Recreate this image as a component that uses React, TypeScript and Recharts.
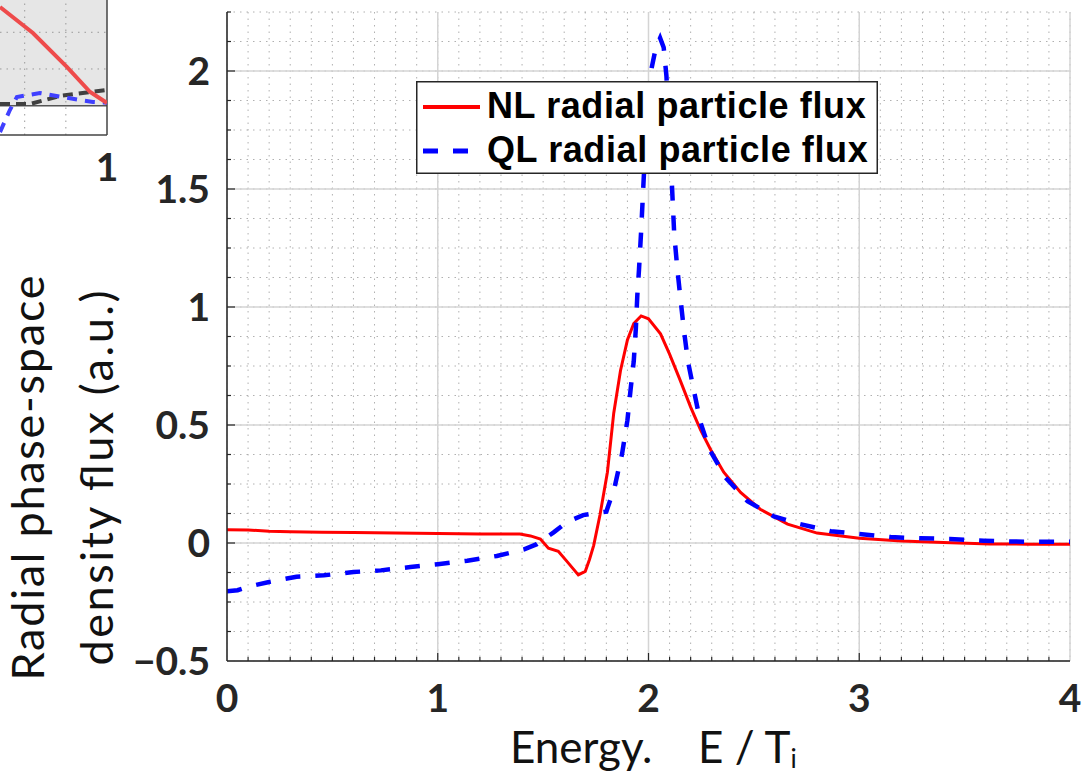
import React from 'react';
import {
  LineChart,
  Line,
  XAxis,
  YAxis,
  CartesianGrid,
  Legend,
  ReferenceArea,
  ReferenceLine,
} from 'recharts';

// ---------------- Main chart data ----------------
const nlX = [0, 0.1, 0.2, 0.3, 0.45, 0.6, 0.8, 1.0, 1.2, 1.39, 1.44, 1.487, 1.525, 1.572, 1.615, 1.667, 1.7, 1.72, 1.74, 1.77, 1.805, 1.835, 1.867, 1.9, 1.93, 1.965, 2.0, 2.057, 2.1, 2.15, 2.2, 2.247, 2.295, 2.357, 2.437, 2.53, 2.66, 2.8, 3.0, 3.2, 3.4, 3.62, 3.8, 4.0];
const nlY = [0.056, 0.055, 0.05, 0.048, 0.046, 0.045, 0.042, 0.04, 0.038, 0.038, 0.03, 0.017, -0.022, -0.035, -0.08, -0.135, -0.12, -0.07, -0.01, 0.12, 0.3, 0.55, 0.73, 0.86, 0.93, 0.962, 0.95, 0.886, 0.8, 0.69, 0.576, 0.479, 0.395, 0.3, 0.214, 0.143, 0.08, 0.042, 0.02, 0.008, 0.002, -0.004, -0.005, -0.005];

const qlX = [0, 0.05, 0.1, 0.2, 0.33, 0.46, 0.6, 0.73, 0.87, 1.0, 1.14, 1.28, 1.41, 1.47, 1.55, 1.615, 1.69, 1.75, 1.8, 1.84, 1.875, 1.9, 1.915, 1.93, 1.94, 1.947, 1.955, 1.965, 1.977, 1.995, 2.012, 2.035, 2.055, 2.072, 2.085, 2.1, 2.11, 2.122, 2.137, 2.15, 2.167, 2.187, 2.215, 2.247, 2.29, 2.366, 2.47, 2.595, 2.72, 2.865, 3.0, 3.15, 3.29, 3.43, 3.59, 3.73, 3.88, 4.0];
const qlY = [-0.205, -0.2, -0.185, -0.165, -0.143, -0.137, -0.123, -0.116, -0.102, -0.09, -0.075, -0.055, -0.027, -0.005, 0.045, 0.09, 0.118, 0.127, 0.133, 0.24, 0.38, 0.52, 0.65, 0.77, 0.91, 1.05, 1.16, 1.32, 1.54, 1.85, 2.0, 2.1, 2.14, 2.1, 1.98, 1.72, 1.54, 1.31, 1.16, 1.05, 0.91, 0.77, 0.647, 0.51, 0.395, 0.277, 0.177, 0.113, 0.08, 0.05, 0.038, 0.025, 0.02, 0.017, 0.01, 0.006, 0.005, 0.005];

const xMajorTicks = [0, 1, 2, 3, 4];
const xMinorTicks = [0, 0.1, 0.2, 0.3, 0.4, 0.5, 0.6, 0.7, 0.8, 0.9, 1, 1.1, 1.2, 1.3, 1.4, 1.5, 1.6, 1.7, 1.8, 1.9, 2, 2.1, 2.2, 2.3, 2.4, 2.5, 2.6, 2.7, 2.8, 2.9, 3, 3.1, 3.2, 3.3, 3.4, 3.5, 3.6, 3.7, 3.8, 3.9, 4];
const yMajorTicks = [-0.5, 0, 0.5, 1, 1.5, 2];
const yMinorTicks = [-0.5, -0.375, -0.25, -0.125, 0, 0.125, 0.25, 0.375, 0.5, 0.625, 0.75, 0.875, 1, 1.125, 1.25, 1.375, 1.5, 1.625, 1.75, 1.875, 2, 2.125, 2.25];

const seriesNames = ['NL radial particle flux', 'QL radial particle flux'];
const xLabelParts = ['Energy.', 'E / T', 'i'];
const yLabelLines = ['Radial phase-space', 'density flux (a.u.)'];

// ---------------- Cropped neighbour chart (top-left) data ----------------
const miniRedX = [0.74, 0.82, 0.903, 0.959, 1.0];
const miniRedY = [0.672, 0.495, 0.263, 0.093, 0.018];
const miniGrayX = [0.74, 0.813, 0.886, 0.959, 1.0];
const miniGrayY = [0.011, 0.011, 0.066, 0.093, 0.107];
const miniBlueX = [0.74, 0.764, 0.781, 0.837, 0.934, 0.966, 1.0];
const miniBlueY = [-0.18, -0.03, 0.059, 0.086, 0.038, 0.025, 0.02];
const miniXTicks = [1];

const zip = (xs: number[], ys: number[]) => xs.map((x, i) => ({ x, y: ys[i] }));
const nlData = zip(nlX, nlY);
const qlData = zip(qlX, qlY);
const miniRed = zip(miniRedX, miniRedY);
const miniGray = zip(miniGrayX, miniGrayY);
const miniBlue = zip(miniBlueX, miniBlueY);

const TICK_FONT = 'Lato, "Open Sans", "DejaVu Sans", sans-serif';
const LABEL_FONT = 'Lato, "Open Sans", sans-serif';
const AXIS_COLOR = '#262626';

const isIn = (arr: number[], v: number) => arr.some((m) => Math.abs(m - v) < 1e-9);
const fmt = (v: number) => (v < 0 ? '\u2212' + String(Math.abs(v)) : String(v));

function YTick(props: any) {
  const { x, y, payload } = props;
  const v = payload.value;
  const major = isIn(yMajorTicks, v);
  const len = major ? 8 : 4;
  return (
    <g>
      {v > -0.5 + 1e-9 && (
        <line x1={x} x2={x + len} y1={y} y2={y} stroke={AXIS_COLOR} strokeWidth={1.2} />
      )}
      {major && (
        <text x={x - 17} y={y + 14} textAnchor="end" fontFamily={TICK_FONT} fontSize={39} fontWeight={700} fill={AXIS_COLOR}>
          {fmt(v)}
        </text>
      )}
    </g>
  );
}

function XTick(props: any) {
  const { x, y, payload } = props;
  const v = payload.value;
  const major = isIn(xMajorTicks, v);
  const len = major ? 8 : 4;
  return (
    <g>
      {v > 1e-9 && v < 4 - 1e-9 && (
        <line x1={x} x2={x} y1={y} y2={y - len} stroke={AXIS_COLOR} strokeWidth={1.2} />
      )}
      {major && (
        <text x={x} y={y + 51} textAnchor="middle" fontFamily={TICK_FONT} fontSize={39} fontWeight={700} fill={AXIS_COLOR}>
          {fmt(v)}
        </text>
      )}
    </g>
  );
}

function MiniXTick(props: any) {
  const { x, y, payload } = props;
  return (
    <text x={x} y={y + 46} textAnchor="middle" fontFamily={TICK_FONT} fontSize={39} fontWeight={700} fill={AXIS_COLOR}>
      {fmt(payload.value)}
    </text>
  );
}

function XLabel() {
  return (
    <text x={510} y={763} fontFamily={LABEL_FONT} fontSize={44} fill="#111">
      <tspan>{xLabelParts[0]}</tspan>
      <tspan x={698}>{xLabelParts[1]}</tspan>
      <tspan dy={5} fontSize={26}>{xLabelParts[2]}</tspan>
    </text>
  );
}

function YLabel() {
  return (
    <g>
      <text transform="translate(44,478) rotate(-90)" textAnchor="middle" fontFamily={LABEL_FONT} fontSize={45} fill="#111" textLength={405} lengthAdjust="spacing">
        {yLabelLines[0]}
      </text>
      <text transform="translate(113,478) rotate(-90)" textAnchor="middle" fontFamily={LABEL_FONT} fontSize={45} fill="#111" textLength={375} lengthAdjust="spacing">
        {yLabelLines[1]}
      </text>
    </g>
  );
}

function LegendBox(props: any) {
  const payload = props.payload || [];
  const rows = [26, 70];
  const base = [37, 81];
  return (
    <svg width={462} height={93} style={{ display: 'block' }}>
      <rect x={0.75} y={0.75} width={460.5} height={91.5} fill="#fff" stroke={AXIS_COLOR} strokeWidth={1.5} />
      {payload.map((p: any, i: number) => (
        <g key={i}>
          <line
            x1={7}
            x2={i === 0 ? 64 : 52}
            y1={rows[i]}
            y2={rows[i]}
            stroke={p.color}
            strokeWidth={i === 0 ? 4 : 5}
            strokeDasharray={i === 0 ? undefined : '15 15'}
          />
          <text x={71} y={base[i]} fontFamily='"Liberation Sans", Arial, sans-serif' fontWeight={700} fontSize={36} letterSpacing={0.6} fill="#000">
            {p.value}
          </text>
        </g>
      ))}
    </svg>
  );
}

function MiniChart() {
  return (
    <div style={{ position: 'absolute', left: 0, top: 0 }}>
      <LineChart width={117} height={200} margin={{ top: 0, right: 10, bottom: 0, left: 0 }}>
        <ReferenceArea x1={0.74} x2={1} y1={0} y2={0.72} fill="#e6e6e6" fillOpacity={1} stroke="none" />
        <ReferenceLine x={0.8} stroke="#9a9a9a" strokeDasharray="1.5 5" />
        <ReferenceLine x={0.9} stroke="#9a9a9a" strokeDasharray="1.5 5" />
        <ReferenceLine y={0.25} stroke="#9a9a9a" strokeDasharray="1.5 5" />
        <ReferenceLine y={0.5} stroke="#9a9a9a" strokeDasharray="1.5 5" />
        <ReferenceLine y={0} stroke="#555" strokeWidth={1.5} />
        <ReferenceLine x={1} stroke="#444" strokeWidth={1.5} />
        <XAxis
          type="number"
          dataKey="x"
          domain={[0.74, 1]}
          ticks={miniXTicks}
          interval={0}
          height={65}
          tickSize={0}
          tickMargin={0}
          tickLine={false}
          axisLine={{ stroke: '#444', strokeWidth: 1.5 }}
          tick={(p: any) => <MiniXTick {...p} />}
          allowDataOverflow
        />
        <YAxis hide type="number" domain={[-0.2, 0.72]} allowDataOverflow />
        <Line data={miniGray} dataKey="y" stroke="#404040" strokeWidth={4} strokeDasharray="10 6" dot={false} isAnimationActive={false} type="linear" />
        <Line data={miniBlue} dataKey="y" stroke="#4040ff" strokeWidth={4} strokeDasharray="10 8" dot={false} isAnimationActive={false} type="linear" />
        <Line data={miniRed} dataKey="y" stroke="#ee4b4b" strokeWidth={4} dot={false} isAnimationActive={false} type="linear" />
      </LineChart>
    </div>
  );
}

export default function App() {
  return (
    <div style={{ position: 'absolute', left: 0, top: 0, width: 1082, height: 777, background: '#fff', overflow: 'hidden' }}>
      <MiniChart />
      <div style={{ position: 'absolute', left: 0, top: 0 }}>
        <LineChart width={1082} height={777} margin={{ top: 12, right: 12, bottom: 0, left: 0 }}>
          <CartesianGrid horizontalValues={yMinorTicks} verticalValues={xMinorTicks} stroke="#b0b0b0" strokeDasharray="1.5 5" strokeWidth={1} />
          <CartesianGrid horizontalValues={yMajorTicks} verticalValues={xMajorTicks} stroke="#d4d4d4" strokeWidth={1.5} />
          <XAxis
            type="number"
            dataKey="x"
            domain={[0, 4]}
            ticks={xMinorTicks}
            interval={0}
            height={116}
            tickSize={0}
            tickMargin={0}
            tickLine={false}
            axisLine={{ stroke: AXIS_COLOR, strokeWidth: 1.5 }}
            tick={(p: any) => <XTick {...p} />}
            label={<XLabel />}
            allowDataOverflow
          />
          <YAxis
            type="number"
            domain={[-0.5, 2.25]}
            ticks={yMinorTicks}
            interval={0}
            width={227}
            tickSize={0}
            tickMargin={0}
            tickLine={false}
            axisLine={{ stroke: AXIS_COLOR, strokeWidth: 1.5 }}
            tick={(p: any) => <YTick {...p} />}
            label={<YLabel />}
            allowDataOverflow
          />
          <Legend
            layout="vertical"
            align="center"
            verticalAlign="middle"
            content={(p: any) => <LegendBox {...p} />}
            wrapperStyle={{ position: 'absolute', left: 416, top: 81, width: 462, height: 93 }}
          />
          <Line data={nlData} dataKey="y" name={seriesNames[0]} stroke="#ff0000" strokeWidth={3} dot={false} isAnimationActive={false} type="linear" />
          <Line data={qlData} dataKey="y" name={seriesNames[1]} stroke="#0000ff" strokeWidth={4.5} strokeDasharray="15 15" dot={false} isAnimationActive={false} type="linear" />
        </LineChart>
      </div>
    </div>
  );
}
